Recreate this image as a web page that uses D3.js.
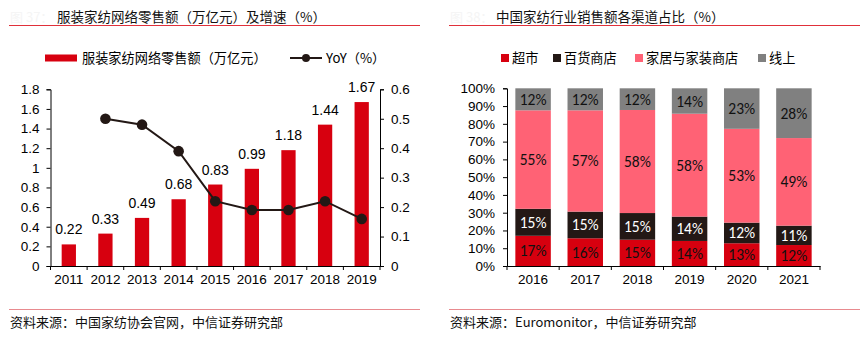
<!DOCTYPE html>
<html>
<head>
<meta charset="utf-8">
<script src="https://cdn.jsdelivr.net/npm/d3@7"></script>
<style>
  body { margin: 0; background: #fff; }
  svg { display: block; font-family: Arial, "Liberation Sans", "Noto Sans CJK SC", sans-serif; }
  .cn { font-family: "Noto Sans CJK SC", sans-serif; }
  .axis path, .axis line { stroke: #000; }
  .axis text { fill: #000; font-size: 13.5px; font-family: Arial, "Liberation Sans", sans-serif; }
</style>
</head>
<body>
<div id="chart"></div>
<script>
// Left chart data
const years = ['2011', '2012', '2013', '2014', '2015', '2016', '2017', '2018', '2019'];
const sales = [0.22, 0.33, 0.49, 0.68, 0.83, 0.99, 1.18, 1.44, 1.67];
const yoy = [null, 0.5, 0.48, 0.39, 0.22, 0.19, 0.19, 0.22, 0.16];

// Right chart data (share %, bottom to top)
const years2 = ['2016', '2017', '2018', '2019', '2020', '2021'];
const supermarket = [17.0, 15.6, 14.8, 14.1, 12.8, 11.8];
const deptStore = [15.2, 15.0, 15.0, 13.7, 11.6, 10.9];
const homeStore = [55.4, 57.0, 58.0, 57.9, 52.8, 49.3];
const online = [12.4, 12.4, 12.2, 14.3, 22.8, 28.0];
const channels = ['超市', '百货商店', '家居与家装商店', '线上'];

const RED = '#d7000f', DARK = '#231815', PINK = '#ff6275', GRAY = '#808080';

const svg = d3.select('#chart').append('svg')
  .attr('width', 866).attr('height', 339);

// ---- headers / footers ----
const titles = [
  { x0: 9, x1: 420, pre: '图 37：', text: '服装家纺网络零售额（万亿元）及增速（%）', tx: 57, src: '资料来源：中国家纺协会官网，中信证券研究部' },
  { x0: 449, x1: 860, pre: '图 38：', text: '中国家纺行业销售额各渠道占比（%）', tx: 496, src: '资料来源：Euromonitor，中信证券研究部' },
];
titles.forEach((t) => {
  svg.append('text').attr('class', 'cn').attr('x', t.x0 + 1).attr('y', 22)
    .attr('font-size', 13).attr('fill', '#f5f5f5').text(t.pre);
  svg.append('text').attr('class', 'cn').attr('x', t.tx).attr('y', 22)
    .attr('font-size', 13.5).attr('fill', '#111').text(t.text);
  svg.append('line').attr('x1', t.x0).attr('x2', t.x1).attr('y1', 25.5).attr('y2', 25.5)
    .attr('stroke', '#e0303a').attr('stroke-width', 1);
  svg.append('line').attr('x1', t.x0).attr('x2', t.x1).attr('y1', 309.5).attr('y2', 309.5)
    .attr('stroke', '#e88a8f').attr('stroke-width', 1);
  svg.append('text').attr('class', 'cn').attr('x', t.x0 + 1).attr('y', 326.5)
    .attr('font-size', 13).attr('fill', '#111').text(t.src);
});

// ---- left chart ----
const x = d3.scaleBand().domain(years).range([50.5, 380]);
const y = d3.scaleLinear().domain([0, 1.8]).range([266, 89.3]);
const y2 = d3.scaleLinear().domain([0, 0.6]).range([266, 89.3]);
const barW = x.bandwidth() * 0.39;

const left = svg.append('g');

left.selectAll('rect.bar').data(sales).join('rect')
  .attr('class', 'bar')
  .attr('x', (d, i) => x(years[i]) + x.bandwidth() / 2 - barW / 2)
  .attr('y', (d) => y(d))
  .attr('width', barW)
  .attr('height', (d) => y(0) - y(d))
  .attr('fill', RED);

left.selectAll('text.val').data(sales).join('text')
  .attr('class', 'val')
  .attr('x', (d, i) => x(years[i]) + x.bandwidth() / 2)
  .attr('y', (d) => y(d) - 10)
  .attr('text-anchor', 'middle')
  .attr('font-size', 14)
  .text((d) => d.toFixed(2));

const yoyPts = yoy.map((v, i) => ({ v, yr: years[i] })).filter((d) => d.v !== null);
left.append('path').datum(yoyPts)
  .attr('fill', 'none').attr('stroke', DARK).attr('stroke-width', 2)
  .attr('d', d3.line().x((d) => x(d.yr) + x.bandwidth() / 2).y((d) => y2(d.v)));
left.selectAll('circle').data(yoyPts).join('circle')
  .attr('cx', (d) => x(d.yr) + x.bandwidth() / 2)
  .attr('cy', (d) => y2(d.v))
  .attr('r', 5.3).attr('fill', DARK);

const fmt1 = (d) => String(+d.toFixed(1));
left.append('g').attr('class', 'axis').attr('transform', 'translate(50.5,0)')
  .call(d3.axisLeft(y).tickValues(d3.range(0, 1.81, 0.2)).tickFormat(fmt1).tickSize(4).tickPadding(7));
left.append('g').attr('class', 'axis').attr('transform', 'translate(380,0)')
  .call(d3.axisRight(y2).tickValues(d3.range(0, 0.61, 0.1)).tickFormat(fmt1).tickSize(4).tickPadding(7));
const xa = left.append('g').attr('class', 'axis').attr('transform', 'translate(0,266)')
  .call(d3.axisBottom(x).tickSize(0).tickPadding(8).tickSizeOuter(0));
xa.selectAll('.tick text').attr('font-size', 13.5);
left.selectAll('line.xt').data(d3.range(years.length + 1)).join('line')
  .attr('class', 'xt')
  .attr('x1', (i) => 50.5 + i * x.step()).attr('x2', (i) => 50.5 + i * x.step())
  .attr('y1', 266).attr('y2', 270).attr('stroke', '#000');

// left legend
const lg = left.append('g');
lg.append('rect').attr('x', 45).attr('y', 54.5).attr('width', 32).attr('height', 7).attr('fill', RED);
lg.append('text').attr('class', 'cn').attr('x', 82).attr('y', 63).attr('font-size', 13.2)
  .text('服装家纺网络零售额（万亿元）');
lg.append('line').attr('x1', 290).attr('x2', 322).attr('y1', 58).attr('y2', 58)
  .attr('stroke', DARK).attr('stroke-width', 2);
lg.append('circle').attr('cx', 306).attr('cy', 58).attr('r', 4).attr('fill', DARK);
lg.append('text').attr('class', 'cn').attr('x', 326).attr('y', 63).attr('font-size', 13.2)
  .text('YoY（%）');

// ---- right chart ----
const xr = d3.scaleBand().domain(years2).range([507, 820]);
const yr = d3.scaleLinear().domain([0, 100]).range([266, 88.3]);
const barW2 = xr.bandwidth() * 0.68;
const colors = [RED, DARK, PINK, GRAY];
const labelColors = ['#111', '#fff', '#111', '#111'];

const table = years2.map((yr_, i) => ({
  year: yr_, s0: supermarket[i], s1: deptStore[i], s2: homeStore[i], s3: online[i],
}));
const stack = d3.stack().keys(['s0', 's1', 's2', 's3'])(table);

const right = svg.append('g');
stack.forEach((layer, k) => {
  const g = right.append('g');
  g.selectAll('rect').data(layer).join('rect')
    .attr('x', (d) => xr(d.data.year) + xr.bandwidth() / 2 - barW2 / 2)
    .attr('y', (d) => yr(d[1]))
    .attr('width', barW2)
    .attr('height', (d) => yr(d[0]) - yr(d[1]))
    .attr('fill', colors[k]);
  g.selectAll('text').data(layer).join('text')
    .attr('x', (d) => xr(d.data.year) + xr.bandwidth() / 2)
    .attr('y', (d) => (yr(d[0]) + yr(d[1])) / 2 + 5.5)
    .attr('text-anchor', 'middle')
    .attr('font-family', 'Carlito, Calibri, Lato, sans-serif')
    .attr('font-size', 15.5)
    .attr('fill', labelColors[k])
    .text((d) => Math.round(d[1] - d[0]) + '%');
});

right.append('g').attr('class', 'axis').attr('transform', 'translate(507,0)')
  .call(d3.axisLeft(yr).tickValues(d3.range(0, 101, 10)).tickFormat((d) => d + '%').tickSize(4).tickPadding(8));
const xb = right.append('g').attr('class', 'axis').attr('transform', 'translate(0,266)')
  .call(d3.axisBottom(xr).tickSize(0).tickPadding(8).tickSizeOuter(0));
xb.selectAll('.tick text').attr('font-size', 13.5);
right.selectAll('line.xt').data(d3.range(years2.length + 1)).join('line')
  .attr('class', 'xt')
  .attr('x1', (i) => 507 + i * xr.step()).attr('x2', (i) => 507 + i * xr.step())
  .attr('y1', 266).attr('y2', 270).attr('stroke', '#000');

// right legend
const legX = [501, 553, 635, 758];
const rl = right.append('g');
channels.forEach((c, k) => {
  rl.append('rect').attr('x', legX[k]).attr('y', 54).attr('width', 8).attr('height', 8).attr('fill', colors[k]);
  rl.append('text').attr('class', 'cn').attr('x', legX[k] + 11).attr('y', 63).attr('font-size', 13.2).text(c);
});
</script>
</body>
</html>
